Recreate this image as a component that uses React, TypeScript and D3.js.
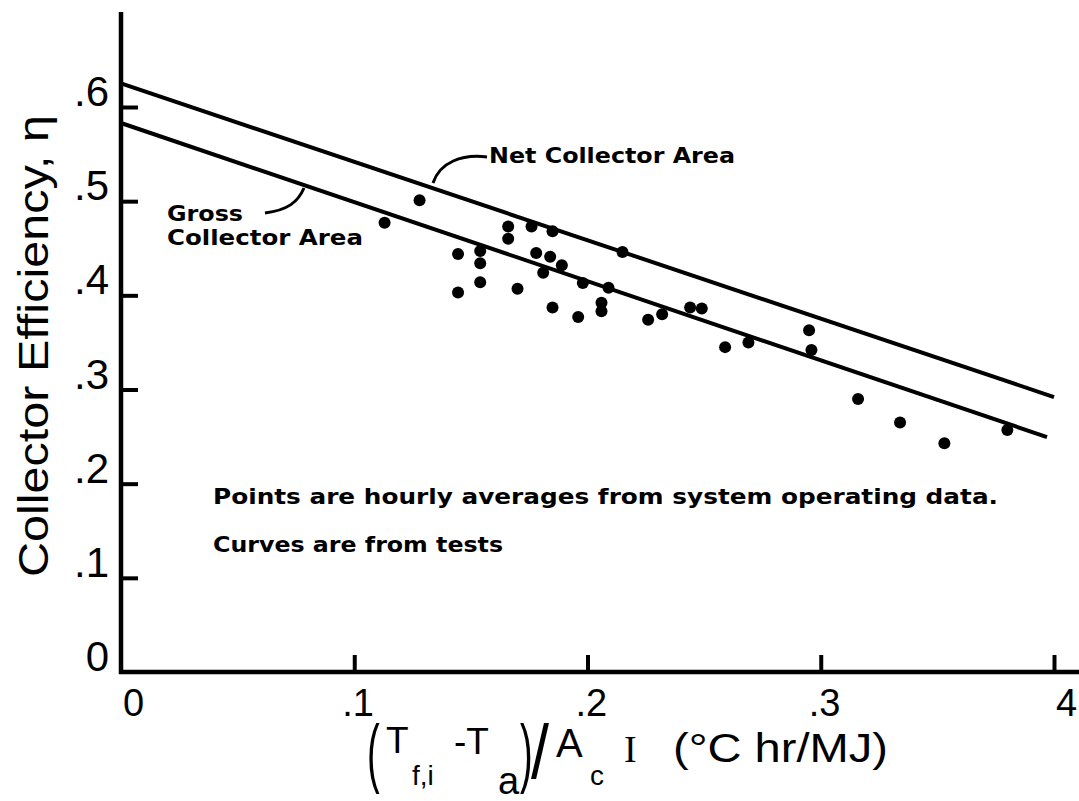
import { useEffect, useRef } from 'react'
import * as d3 from 'd3'

// axis ticks as printed on the figure
const xTicks = [0, 0.1, 0.2, 0.3, 0.4]
const xTickLabels = ['0', '.1', '.2', '.3', '4']
const yTicks = [0, 0.1, 0.2, 0.3, 0.4, 0.5, 0.6]
const yTickLabels = ['0', '.1', '.2', '.3', '.4', '.5', '.6']

// hourly averages from system operating data
const pointX = [
	0.113, 0.128, 0.1445, 0.1445, 0.154, 0.154, 0.154, 0.166, 0.166, 0.17, 0.176, 0.178,
	0.181, 0.184, 0.185, 0.189, 0.185, 0.196, 0.198, 0.206, 0.206, 0.209, 0.215, 0.226,
	0.232, 0.244, 0.249, 0.259, 0.269, 0.295, 0.296, 0.316, 0.334, 0.353, 0.38,
]
const pointEta = [
	0.477, 0.501, 0.444, 0.403, 0.447, 0.434, 0.414, 0.473, 0.46, 0.407, 0.473, 0.445,
	0.424, 0.441, 0.468, 0.432, 0.387, 0.377, 0.413, 0.392, 0.383, 0.408, 0.446, 0.374,
	0.38, 0.387, 0.386, 0.345, 0.35, 0.363, 0.342, 0.29, 0.265, 0.243, 0.257,
]

// test curves
const netX = [0, 0.4]
const netEta = [0.625, 0.292]
const grossX = [0, 0.397]
const grossEta = [0.583, 0.2495]

const App = () => {
	const svgRef = useRef(null)

	useEffect(() => {
		const svg = d3.select(svgRef.current)
		svg.selectAll('*').remove()

		const x = d3.scaleLinear().domain([0, 0.4]).range([121, 1054])
		const y = d3.scaleLinear().domain([0, 0.6]).range([672, 107])
		const sans = 'Liberation Sans, Arial, sans-serif'
		const bold = 'DejaVu Sans, sans-serif'

		// axis lines
		svg.append('line')
			.attr('x1', x(0)).attr('x2', x(0))
			.attr('y1', 12).attr('y2', y(0) + 2)
			.attr('stroke', '#000').attr('stroke-width', 4.5)
		svg.append('line')
			.attr('x1', x(0) - 2).attr('x2', 1079)
			.attr('y1', y(0)).attr('y2', y(0))
			.attr('stroke', '#000').attr('stroke-width', 4.5)

		// inward ticks
		svg.append('g')
			.attr('transform', `translate(0,${y(0)})`)
			.call(d3.axisBottom(x).tickValues(xTicks.slice(1)).tickSizeInner(-17).tickSizeOuter(0).tickFormat(() => ''))
			.call((g) => g.select('.domain').remove())
			.selectAll('line').attr('stroke', '#000').attr('stroke-width', 4)
		svg.append('g')
			.attr('transform', `translate(${x(0)},0)`)
			.call(d3.axisLeft(y).tickValues(yTicks.slice(1)).tickSizeInner(-17).tickSizeOuter(0).tickFormat(() => ''))
			.call((g) => g.select('.domain').remove())
			.selectAll('line').attr('stroke', '#000').attr('stroke-width', 4)

		// tick labels
		svg.selectAll('.xl')
			.data(xTicks)
			.enter()
			.append('text')
			.attr('x', (d, i) => x(d) + (xTickLabels[i].startsWith('.') ? -12 : 2))
			.attr('y', 716)
			.attr('font-family', sans)
			.attr('font-size', 38)
			.text((d, i) => xTickLabels[i])
		svg.selectAll('.yl')
			.data(yTicks)
			.enter()
			.append('text')
			.attr('x', 109)
			.attr('y', (d) => y(d) - 1)
			.attr('text-anchor', 'end')
			.attr('font-family', sans)
			.attr('font-size', 42)
			.text((d, i) => yTickLabels[i])

		// y title
		svg.append('text')
			.attr('transform', 'translate(48,346) rotate(-90)')
			.attr('text-anchor', 'middle')
			.attr('font-family', sans)
			.attr('font-size', 42)
			.attr('textLength', 462)
			.attr('lengthAdjust', 'spacingAndGlyphs')
			.text('Collector Efficiency, η')

		// x title, built up piece by piece
		const xt = svg.append('g').attr('font-family', sans).attr('fill', '#000')
		const piece = (t, px, py, fs, sx = 1, fam = sans) =>
			xt.append('text')
				.attr('transform', `translate(${px},${py}) scale(${sx},1)`)
				.attr('font-size', fs)
				.attr('font-family', fam)
				.text(t)
		piece('(', 367, 778, 76, 0.5)
		piece('T', 386, 753, 37)
		piece('f,i', 412, 785, 28)
		piece('-T', 454, 754, 37)
		piece('a', 498, 794, 38)
		piece(')', 520, 778, 76, 0.5)
		piece('/', 531, 778, 76, 0.85)
		piece('A', 556, 757, 40)
		piece('c', 590, 785, 28)
		piece('I', 624, 762, 38, 1, 'Liberation Serif, serif')
		xt.append('text')
			.attr('x', 673).attr('y', 762)
			.attr('font-size', 40)
			.attr('textLength', 215)
			.attr('lengthAdjust', 'spacingAndGlyphs')
			.text('(°C hr/MJ)')

		// test curves
		const line = d3.line().x((d) => x(d[0])).y((d) => y(d[1]))
		svg.append('path')
			.datum(netX.map((v, i) => [v, netEta[i]]))
			.attr('d', line)
			.attr('fill', 'none').attr('stroke', '#000').attr('stroke-width', 4)
		svg.append('path')
			.datum(grossX.map((v, i) => [v, grossEta[i]]))
			.attr('d', line)
			.attr('fill', 'none').attr('stroke', '#000').attr('stroke-width', 4)

		// data points
		svg.selectAll('.pt')
			.data(pointX)
			.enter()
			.append('circle')
			.attr('cx', (d) => x(d))
			.attr('cy', (d, i) => y(pointEta[i]))
			.attr('r', 6)
			.attr('fill', '#000')

		// curve labels + leader lines
		svg.append('path')
			.attr('d', 'M487,157 C462,154 440,162 433,183')
			.attr('fill', 'none').attr('stroke', '#000').attr('stroke-width', 3)
		svg.append('text')
			.attr('x', 489).attr('y', 163)
			.attr('font-family', bold).attr('font-weight', 'bold').attr('font-size', 21)
			.attr('textLength', 246).attr('lengthAdjust', 'spacingAndGlyphs')
			.text('Net Collector Area')
		svg.append('path')
			.attr('d', 'M265,213 C288,210 298,202 304,188')
			.attr('fill', 'none').attr('stroke', '#000').attr('stroke-width', 3)
		svg.append('text')
			.attr('x', 167).attr('y', 221)
			.attr('font-family', bold).attr('font-weight', 'bold').attr('font-size', 21)
			.attr('textLength', 76).attr('lengthAdjust', 'spacingAndGlyphs')
			.text('Gross')
		svg.append('text')
			.attr('x', 167).attr('y', 245)
			.attr('font-family', bold).attr('font-weight', 'bold').attr('font-size', 21)
			.attr('textLength', 196).attr('lengthAdjust', 'spacingAndGlyphs')
			.text('Collector Area')

		// note
		svg.append('text')
			.attr('x', 213).attr('y', 504)
			.attr('font-family', bold).attr('font-weight', 'bold').attr('font-size', 22)
			.attr('textLength', 785).attr('lengthAdjust', 'spacingAndGlyphs')
			.text('Points are hourly averages from system operating data.')
		svg.append('text')
			.attr('x', 213).attr('y', 552)
			.attr('font-family', bold).attr('font-weight', 'bold').attr('font-size', 22)
			.attr('textLength', 290).attr('lengthAdjust', 'spacingAndGlyphs')
			.text('Curves are from tests')
	}, [])

	return (
		<svg
			ref={svgRef}
			width={1079}
			height={801}
			style={{ position: 'absolute', left: 0, top: 0, background: '#fff' }}
		></svg>
	)
}

export default App
